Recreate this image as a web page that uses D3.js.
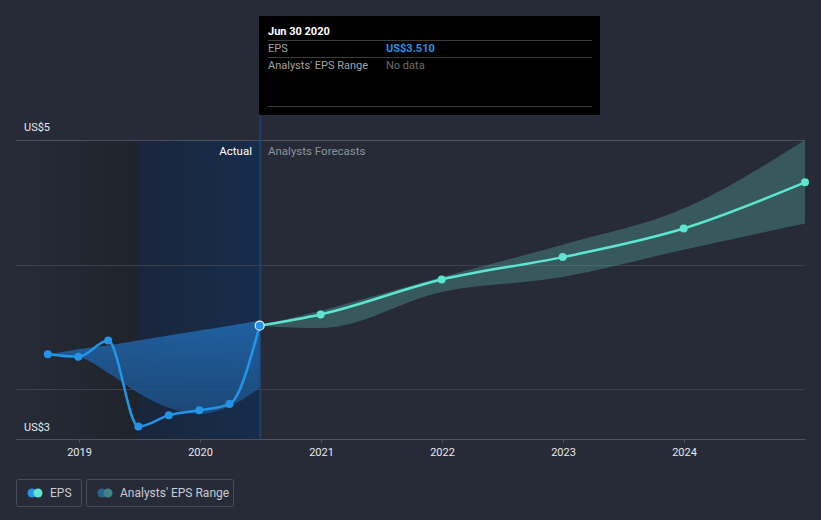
<!DOCTYPE html>
<html>
<head>
<meta charset="utf-8">
<script src="https://cdn.jsdelivr.net/npm/d3@7"></script>
<style>
  body { margin: 0; background: #262b37; }
  svg { display: block; font-family: Roboto, "Open Sans", sans-serif; }
</style>
</head>
<body>
<div id="chart"></div>
<script>
// EPS actuals (quarter ends)
var epsDates = ["2018-09-30", "2018-12-31", "2019-03-31", "2019-06-30", "2019-09-30", "2019-12-31", "2020-03-31", "2020-06-30"];
var epsValues = [3.28, 3.26, 3.39, 2.70, 2.79, 2.83, 2.88, 3.51];

// analyst forecasts
var fcDates = ["2020-06-30", "2020-12-31", "2021-12-31", "2022-12-31", "2023-12-31", "2024-12-31"];
var fcValues = [3.51, 3.60, 3.88, 4.06, 4.29, 4.66];
var fcHigh = [3.51, 3.63, 3.90, 4.16, 4.45, 5.00];
var fcLow = [3.51, 3.49, 3.78, 3.90, 4.12, 4.33];

// past analysts' range
var pastHigh = [3.28, 3.32, 3.35, 3.39, 3.43, 3.47, 3.51, 3.55];
var pastLow = [3.28, 3.26, 3.13, 2.97, 2.85, 2.80, 2.86, 3.01];

var yGrid = [5, 4, 3];
var yLabels = ["US$5", "US$3"];
var xTicks = [2019, 2020, 2021, 2022, 2023, 2024];

var W = 821, H = 520;
var plotL = 16, plotR = 805, plotT = 140, plotB = 439;
var parse = d3.timeParse("%Y-%m-%d");

var x = d3.scaleTime()
  .domain([new Date(2018, 5, 26), new Date(2024, 11, 31)])
  .range([plotL, plotR]);
var y = d3.scaleLinear().domain([2.6, 5.0]).range([plotB, plotT]);

var svg = d3.select("#chart").append("svg")
  .attr("width", W)
  .attr("height", H);

var defs = svg.append("defs");
var g1 = defs.append("linearGradient").attr("id", "pastShade");
g1.append("stop").attr("offset", "0%").attr("stop-color", "#262b37");
g1.append("stop").attr("offset", "100%").attr("stop-color", "#1f232b");
var g2 = defs.append("linearGradient").attr("id", "actualShade");
g2.append("stop").attr("offset", "0%").attr("stop-color", "#19263b");
g2.append("stop").attr("offset", "100%").attr("stop-color", "#172d4c");
var g3 = defs.append("linearGradient").attr("id", "pastBand")
  .attr("x1", 0).attr("x2", 0).attr("y1", 0).attr("y2", 1);
g3.append("stop").attr("offset", "0%").attr("stop-color", "#2169b0");
g3.append("stop").attr("offset", "100%").attr("stop-color", "#1d4d80");

var oneYearBack = parse("2019-06-30"), lastActual = parse("2020-06-30");

// shaded backgrounds
svg.append("rect")
  .attr("x", plotL).attr("y", plotT)
  .attr("width", x(oneYearBack) - plotL).attr("height", plotB - plotT)
  .attr("fill", "url(#pastShade)");
svg.append("rect")
  .attr("x", x(oneYearBack)).attr("y", plotT)
  .attr("width", x(lastActual) - x(oneYearBack)).attr("height", plotB - plotT)
  .attr("fill", "url(#actualShade)");

// grid
svg.selectAll(".grid").data(yGrid).enter().append("line")
  .attr("x1", plotL).attr("x2", plotR)
  .attr("y1", function(d) { return Math.round(y(d)) + 0.5; })
  .attr("y2", function(d) { return Math.round(y(d)) + 0.5; })
  .attr("stroke", function(d, i) { return i == 0 ? "#4b515e" : "#3a404c"; });

// vertical marker at last actual
svg.append("line")
  .attr("x1", x(lastActual) + 0.5).attr("x2", x(lastActual) + 0.5)
  .attr("y1", 115).attr("y2", plotB)
  .attr("stroke", "#1f4f8a");

// past range band
var pastRange = epsDates.map(function(d, i) { return { date: parse(d), hi: pastHigh[i], lo: pastLow[i] }; });
svg.append("path")
  .datum(pastRange)
  .attr("fill", "url(#pastBand)")
  .attr("opacity", 0.85)
  .attr("d", d3.area().curve(d3.curveMonotoneX)
    .x(function(d) { return x(d.date); })
    .y0(function(d) { return y(d.lo); })
    .y1(function(d) { return y(d.hi); }));

// forecast band
var fc = fcDates.map(function(d, i) { return { date: parse(d), v: fcValues[i], hi: fcHigh[i], lo: fcLow[i] }; });
svg.append("path")
  .datum(fc)
  .attr("fill", "#5fc3bb")
  .attr("opacity", 0.3)
  .attr("d", d3.area().curve(d3.curveMonotoneX)
    .x(function(d) { return x(d.date); })
    .y0(function(d) { return y(d.lo); })
    .y1(function(d) { return y(d.hi); }));

// axis
svg.append("line")
  .attr("x1", plotL).attr("x2", plotR)
  .attr("y1", plotB + 0.5).attr("y2", plotB + 0.5)
  .attr("stroke", "#4b515e");
var xt = svg.selectAll(".xt").data(xTicks).enter().append("g")
  .attr("transform", function(d) { return "translate(" + (Math.round(x(new Date(d, 0, 1))) + 0.5) + ",0)"; });
xt.append("line").attr("y1", plotB).attr("y2", plotB + 4).attr("stroke", "#4b515e");
xt.append("text")
  .attr("y", 456).attr("text-anchor", "middle")
  .attr("fill", "#e6e8ec").attr("font-size", 11)
  .text(function(d) { return d; });

// y labels
svg.append("text").attr("x", 24).attr("y", 131).attr("fill", "#e6e8ec").attr("font-size", 11).text(yLabels[0]);
svg.append("text").attr("x", 24).attr("y", 431).attr("fill", "#e6e8ec").attr("font-size", 11).text(yLabels[1]);

// forecast line
var line = d3.line().curve(d3.curveMonotoneX)
  .x(function(d) { return x(d.date); })
  .y(function(d) { return y(d.v); });
svg.append("path").datum(fc)
  .attr("fill", "none").attr("stroke", "#5ce6cf").attr("stroke-width", 2.5)
  .attr("d", line);
svg.selectAll(".fcp").data(fc.slice(1)).enter().append("circle")
  .attr("cx", function(d) { return x(d.date); })
  .attr("cy", function(d) { return y(d.v); })
  .attr("r", 4).attr("fill", "#5ce6cf");

// eps line
var eps = epsDates.map(function(d, i) { return { date: parse(d), v: epsValues[i] }; });
svg.append("path").datum(eps)
  .attr("fill", "none").attr("stroke", "#2394e6").attr("stroke-width", 2.5)
  .attr("d", line);
svg.selectAll(".ep").data(eps.slice(0, -1)).enter().append("circle")
  .attr("cx", function(d) { return x(d.date); })
  .attr("cy", function(d) { return y(d.v); })
  .attr("r", 4).attr("fill", "#2394e6");
var last = eps[eps.length - 1];
svg.append("circle")
  .attr("cx", x(last.date)).attr("cy", y(last.v))
  .attr("r", 4.5).attr("fill", "#2394e6")
  .attr("stroke", "#e8f2fc").attr("stroke-width", 1.2);

// section labels
svg.append("text").attr("x", 252).attr("y", 155).attr("text-anchor", "end")
  .attr("fill", "#ffffff").attr("font-size", 11.5).text("Actual");
svg.append("text").attr("x", 268).attr("y", 155)
  .attr("fill", "#8d929c").attr("font-size", 11.5).text("Analysts Forecasts");

// tooltip
var tip = svg.append("g");
tip.append("rect").attr("x", 259).attr("y", 16).attr("width", 341).attr("height", 99).attr("fill", "#000");
tip.append("text").attr("x", 268).attr("y", 35).attr("fill", "#fff").attr("font-size", 11).attr("font-weight", "bold").text("Jun 30 2020");
[40.5, 57.5, 106.5].forEach(function(yy) {
  tip.append("line").attr("x1", 268).attr("x2", 592).attr("y1", yy).attr("y2", yy).attr("stroke", "#3d3d3d");
});
tip.append("text").attr("x", 268).attr("y", 52).attr("fill", "#a3a3a3").attr("font-size", 11).text("EPS");
tip.append("text").attr("x", 386).attr("y", 52).attr("fill", "#2394e6").attr("font-size", 11).attr("font-weight", "bold").text("US$" + last.v.toFixed(3));
tip.append("text").attr("x", 268).attr("y", 69).attr("fill", "#a3a3a3").attr("font-size", 11).text("Analysts' EPS Range");
tip.append("text").attr("x", 386).attr("y", 69).attr("fill", "#6c6c6c").attr("font-size", 11).text("No data");

// legend
var legend = [
  { label: "EPS", x: 16, w: 65, c1: "#2394e6", c2: "#5ce6cf" },
  { label: "Analysts' EPS Range", x: 86, w: 147, c1: "#2a6296", c2: "#3f8585" }
];
var lg = svg.selectAll(".lg").data(legend).enter().append("g")
  .attr("transform", function(d) { return "translate(" + d.x + ",479)"; });
lg.append("rect").attr("x", 0.5).attr("y", 0.5)
  .attr("width", function(d) { return d.w; }).attr("height", 27)
  .attr("rx", 2).attr("fill", "none").attr("stroke", "#474d5a");
lg.append("circle").attr("cx", 16).attr("cy", 14).attr("r", 4.5).attr("fill", function(d) { return d.c1; });
lg.append("circle").attr("cx", 22).attr("cy", 14).attr("r", 4.5).attr("fill", function(d) { return d.c2; });
lg.append("text").attr("x", 34).attr("y", 18).attr("fill", "#c9ccd3").attr("font-size", 12)
  .text(function(d) { return d.label; });
</script>
</body>
</html>
